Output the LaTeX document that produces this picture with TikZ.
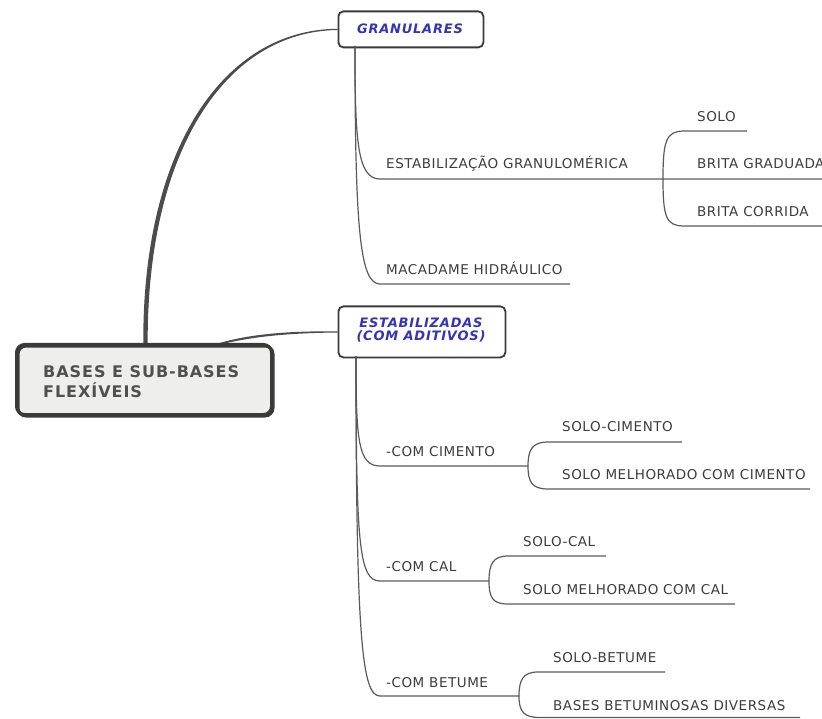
\documentclass[tikz,border=0pt]{standalone}
\usepackage{fontspec}
\setmainfont{DejaVu Sans}
\definecolor{linegray}{HTML}{5A5A5A}
\definecolor{txtgray}{HTML}{3C3C3C}
\definecolor{boxblue}{HTML}{3434B4}
\definecolor{rootfill}{HTML}{EEEEEC}
\definecolor{rootline}{HTML}{3A3A3A}
\definecolor{roottxt}{HTML}{505050}
\begin{document}
\begin{tikzpicture}[x=1pt,y=-1pt,
  lbl/.style={anchor=base west, inner sep=0pt, text=txtgray, font=\fontsize{13.5}{15}\selectfont\addfontfeature{LetterSpace=4}},
  conn/.style={draw=linegray, line width=1.2pt},
  topic/.style={draw=rootline, line width=1.8pt, rounded corners=5pt, fill=white, inner sep=0pt, anchor=north west},
  bluetxt/.style={inner sep=0pt, text=boxblue, font=\fontsize{13}{14}\selectfont\bfseries\itshape\addfontfeature{LetterSpace=6}},
  rootbox/.style={draw=rootline, line width=3pt, rounded corners=8pt, fill=rootfill, inner sep=0pt, anchor=north west},
  roottext/.style={anchor=base west, inner sep=0pt, text=roottxt, font=\fontsize{16}{20}\selectfont\bfseries\addfontfeature{LetterSpace=6}},
  taper/.style={fill=linegray!85!black}
]
\useasboundingbox (0,0) rectangle (822,719);

% root
\node[rootbox, minimum width=255, minimum height=70] (root) at (16.5,344.5) {};
\node[roottext] (rootA) at (43,377) {BASES E SUB-BASES};
\node[roottext] (rootB) at (43,397) {FLEXÍVEIS};

% main topics
\node[topic, minimum width=145, minimum height=36] (gran) at (337.5,10.5) {};
\node[bluetxt, anchor=base] (granT) at (410,34) {GRANULARES};
\node[topic, minimum width=167, minimum height=51] (estab) at (337.5,305.5) {};
\node[bluetxt, anchor=base] (estabA) at (421,327.5) {ESTABILIZADAS};
\node[bluetxt, anchor=base] (estabB) at (421,340.5) {(COM ADITIVOS)};

% tapered connectors from root
\fill[taper] ([xshift=-2.2pt]root.north) .. controls (142,150) and (223,29.5) .. ([yshift=0.6pt]gran.west)
  -- ([yshift=-0.6pt]gran.west) .. controls (225,31.5) and (146.5,152) .. ([xshift=2.2pt]root.north) -- cycle;
\fill[taper] ([xshift=-60pt]root.north east) .. controls (250,333.5) and (290,331) .. ([yshift=0.6pt]estab.west)
  -- ([yshift=-0.6pt]estab.west) .. controls (290,333) and (252,336.5) .. ([xshift=-54pt]root.north east) -- cycle;
\draw[rootline, line width=3pt, rounded corners=8pt] (16.5,344.5) rectangle (271.5,414.5);

% granulares branch
\coordinate (gT) at (355,46);
\coordinate (gj) at (663,179);
\node[lbl] (eg) at (386,169) {ESTABILIZAÇÃO GRANULOMÉRICA};
\node[lbl] (mh) at (386,274.5) {MACADAME HIDRÁULICO};
\node[lbl] (solo) at (697,121.5) {SOLO};
\node[lbl] (bg) at (697,168.5) {BRITA GRADUADA};
\node[lbl] (bc) at (697,216.5) {BRITA CORRIDA};
\coordinate (soloE) at (747,131);
\coordinate (bgE) at (822,179);
\coordinate (bcE) at (822,226);
\coordinate (mhE) at (570,284);

\draw[conn] (gT) .. controls (355,140) and (357,179) .. (380,179) -- (gj) -- (bgE);
\draw[conn] (gT) .. controls (355,230) and (360,284) .. (380,284) -- (mhE);
\draw[conn] (gj) .. controls (663,141) and (666,131) .. (684,131) -- (soloE);
\draw[conn] (gj) .. controls (663,217) and (666,226) .. (684,226) -- (bcE);

% estabilizadas branch
\coordinate (eT) at (356,356);
\node[lbl] (cim) at (386,456.5) {-COM CIMENTO};
\node[lbl] (sc) at (562,431.5) {SOLO-CIMENTO};
\node[lbl] (smc) at (562,479.5) {SOLO MELHORADO COM CIMENTO};
\node[lbl] (cal) at (386,571.5) {-COM CAL};
\node[lbl] (scal) at (523,546.5) {SOLO-CAL};
\node[lbl] (smcal) at (523,594.5) {SOLO MELHORADO COM CAL};
\node[lbl] (bet) at (386,687.5) {-COM BETUME};
\node[lbl] (sb) at (553,662.5) {SOLO-BETUME};
\node[lbl] (bbd) at (553,710) {BASES BETUMINOSAS DIVERSAS};

\coordinate (cj) at (528,466);
\coordinate (calj) at (489,581);
\coordinate (bj) at (519,696);

\draw[conn] (eT) .. controls (356,440) and (358,466) .. (380,466) -- (cj);
\draw[conn] (cj) .. controls (528,450) and (532,442) .. (548,442) -- (682,442);
\draw[conn] (cj) .. controls (528,482) and (532,489) .. (548,489) -- (810,489);

\draw[conn] (eT) .. controls (356,545) and (359,581) .. (380,581) -- (calj);
\draw[conn] (calj) .. controls (489,564) and (493,556) .. (508,556) -- (606,556);
\draw[conn] (calj) .. controls (489,598) and (493,604) .. (508,604) -- (735,604);

\draw[conn] (eT) .. controls (356,640) and (362,696) .. (380,696) -- (bj);
\draw[conn] (bj) .. controls (519,680) and (523,672) .. (538,672) -- (665,672);
\draw[conn] (bj) .. controls (519,712) and (524,717.5) .. (540,717.5) -- (800,717.5);
\end{tikzpicture}
\end{document}
